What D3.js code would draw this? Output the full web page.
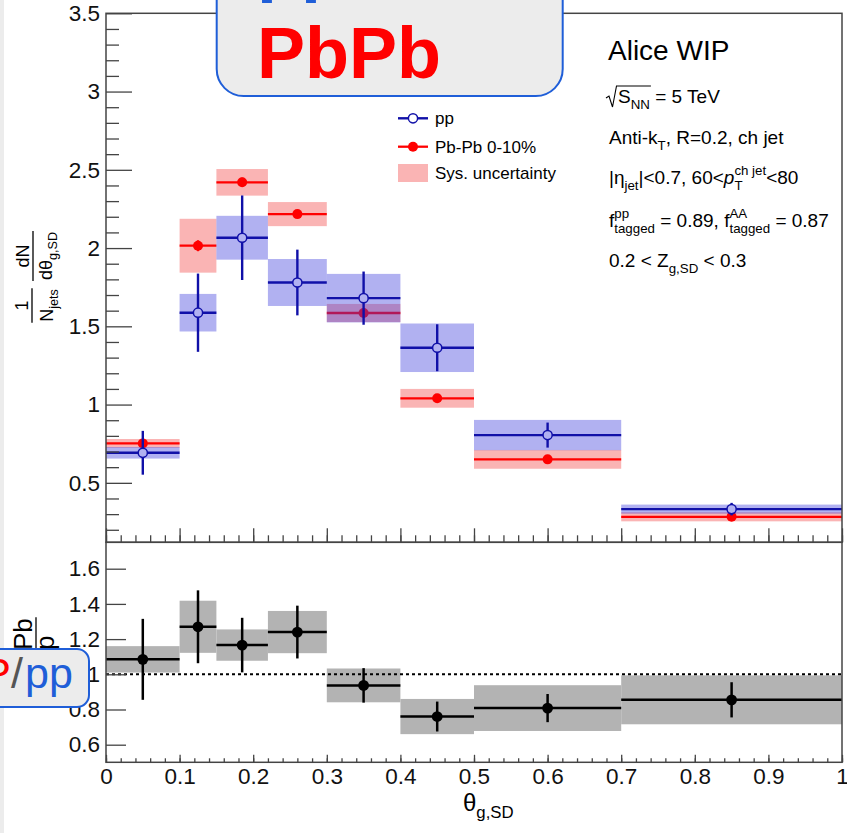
<!DOCTYPE html>
<html>
<head>
<meta charset="utf-8">
<script src="https://cdn.jsdelivr.net/npm/d3@7"></script>
<style>
  body { margin: 0; background: #fff; }
  svg text { font-family: "Liberation Sans", Arial, Helvetica, sans-serif; fill: #000; white-space: pre; }
</style>
</head>
<body>
<svg id="chart" width="847" height="833"></svg>
<script>
// bins in theta_g,SD
var binEdges = [0, 0.1, 0.15, 0.22, 0.3, 0.4, 0.5, 0.7, 1.0];
var binCenters = [0.05, 0.125, 0.185, 0.26, 0.35, 0.45, 0.6, 0.85];

// pp
var ppVal  = [0.692, 1.587, 2.066, 1.78, 1.68, 1.363, 0.805, 0.332];
var ppStat = [0.14, 0.25, 0.27, 0.21, 0.17, 0.15, 0.08, 0.04];
var ppSys  = [0.037, 0.12, 0.14, 0.15, 0.155, 0.155, 0.097, 0.029];

// Pb-Pb 0-10%
var pbVal  = [0.752, 2.015, 2.42, 2.217, 1.585, 1.04, 0.65, 0.283];
var pbStat = [0.02, 0.035, 0.03, 0.02, 0.02, 0.015, 0.01, 0.01];
var pbSys  = [0.028, 0.172, 0.085, 0.077, 0.058, 0.06, 0.06, 0.029];

// ratio PbPb / pp
var ratioVal  = [1.085, 1.27, 1.166, 1.24, 0.937, 0.76, 0.808, 0.855];
var ratioStat = [0.23, 0.207, 0.155, 0.15, 0.098, 0.085, 0.08, 0.10];
var ratioSys  = [0.075, 0.148, 0.089, 0.12, 0.096, 0.1, 0.13, 0.139];

// axis ticks
var topYTicks = [0.5, 1, 1.5, 2, 2.5, 3, 3.5];
var botYTicks = [0.6, 0.8, 1, 1.2, 1.4, 1.6];
var xTicks = [0, 0.1, 0.2, 0.3, 0.4, 0.5, 0.6, 0.7, 0.8, 0.9, 1];

var legendLabels = ["pp", "Pb-Pb 0-10%", "Sys. uncertainty"];

var blue = "#1010a8", red = "#ff0000";
var blueBox = "rgba(60,60,220,0.4)", redBox = "rgba(240,40,40,0.35)", grayBox = "#b3b3b3";
var slideBlue = "#1f5ed8";

var svg = d3.select("#chart");

var x = d3.scaleLinear().domain([0, 1]).range([106, 842]);
var yTop = d3.scaleLinear().domain([0.12, 3.5]).range([542.3, 13.3]);
var yBot = d3.scaleLinear().domain([0.5, 1.75]).range([762.3, 542.3]);

// edge of the slide on the left
svg.append("rect").attr("x", 0).attr("y", 0).attr("width", 4).attr("height", 833).attr("fill", "#ececec");

// text with sub/superscripts, measured piece by piece
function rich(g, x0, y0, parts, fs, anchor) {
  var t = g.append("g");
  var cx = 0;
  parts.forEach(function(p) {
    if (typeof p === "string") p = {t: p};
    if (p.t) {
      var el = t.append("text").attr("x", cx).attr("y", 0).attr("font-size", fs).text(p.t);
      if (p.i) el.attr("font-style", "italic");
      cx += el.node().getComputedTextLength();
    }
    var w = 0;
    if (p.sup) {
      var s = t.append("text").attr("x", cx).attr("y", -fs * 0.45).attr("font-size", fs * 0.7).text(p.sup);
      w = Math.max(w, s.node().getComputedTextLength());
    }
    if (p.sub) {
      var b = t.append("text").attr("x", cx).attr("y", fs * 0.3).attr("font-size", fs * 0.7).text(p.sub);
      w = Math.max(w, b.node().getComputedTextLength());
    }
    cx += w;
  });
  var ox = anchor === "middle" ? x0 - cx / 2 : x0;
  t.attr("transform", "translate(" + ox + "," + y0 + ")");
  return cx;
}

// rotated fraction, bar centred on (px, py)
function fraction(px, py, num, den, fs, numY, denY) {
  var g = svg.append("g").attr("transform", "translate(" + px + "," + py + ") rotate(-90)");
  var w1 = rich(g, 0, numY, num, fs, "middle");
  var w2 = rich(g, 0, denY, den, fs, "middle");
  var w = Math.max(w1, w2) + 2;
  g.append("line").attr("x1", -w / 2).attr("x2", w / 2).attr("y1", 0).attr("y2", 0)
    .attr("stroke", "#000").attr("stroke-width", 1.3);
}

function sysBoxes(vals, sys, y, fill) {
  svg.append("g").selectAll("rect")
    .data(vals)
    .enter()
    .append("rect")
      .attr("x", function(d, i) { return x(binEdges[i]); })
      .attr("width", function(d, i) { return x(binEdges[i + 1]) - x(binEdges[i]); })
      .attr("y", function(d, i) { return y(d + sys[i]); })
      .attr("height", function(d, i) { return y(d - sys[i]) - y(d + sys[i]); })
      .attr("fill", fill);
}

function points(vals, stat, y, color, lw, r, markerFill, markerStroke) {
  var g = svg.append("g").attr("stroke", color).attr("stroke-width", lw);
  g.selectAll("line.h").data(vals).enter().append("line").attr("class", "h")
    .attr("x1", function(d, i) { return x(binEdges[i]); })
    .attr("x2", function(d, i) { return x(binEdges[i + 1]); })
    .attr("y1", function(d) { return y(d); })
    .attr("y2", function(d) { return y(d); });
  g.selectAll("line.v").data(vals).enter().append("line").attr("class", "v")
    .attr("x1", function(d, i) { return x(binCenters[i]); })
    .attr("x2", function(d, i) { return x(binCenters[i]); })
    .attr("y1", function(d, i) { return y(d + stat[i]); })
    .attr("y2", function(d, i) { return y(d - stat[i]); });
  g.selectAll("circle").data(vals).enter().append("circle")
    .attr("cx", function(d, i) { return x(binCenters[i]); })
    .attr("cy", function(d) { return y(d); })
    .attr("r", r)
    .attr("fill", markerFill)
    .attr("stroke", markerStroke)
    .attr("stroke-width", markerStroke === "none" ? 0 : 1.5);
}

// top panel
sysBoxes(pbVal, pbSys, yTop, redBox);
points(pbVal, pbStat, yTop, red, 2.3, 5, red, "none");
sysBoxes(ppVal, ppSys, yTop, blueBox);
points(ppVal, ppStat, yTop, blue, 2.4, 4.6, "#b1b1f1", blue);

// ratio panel
sysBoxes(ratioVal, ratioSys, yBot, grayBox);
svg.append("line")
  .attr("x1", x(0)).attr("x2", x(1))
  .attr("y1", yBot(1)).attr("y2", yBot(1))
  .attr("stroke", "#000").attr("stroke-width", 2).attr("stroke-dasharray", "3,3");
points(ratioVal, ratioStat, yBot, "#000", 2.5, 5.4, "#000", "none");

// axes
function styleAxis(g, fs) {
  g.attr("font-size", null).attr("font-family", null);
  g.select(".domain").remove();
  g.selectAll(".tick line").attr("stroke", "#444").attr("stroke-width", 1.3);
  g.selectAll(".tick text").attr("font-size", fs).style("fill", "#111");
}
var fmt = function(d) { return String(+d.toFixed(1)); };

var topMinorY = d3.range(2, 35).filter(function(i) { return i % 5 !== 0; }).map(function(i) { return i / 10; });
svg.append("g").attr("transform", "translate(106,0)")
  .call(d3.axisLeft(yTop).tickValues(topMinorY).tickSizeInner(-13).tickSizeOuter(0).tickFormat(""))
  .call(styleAxis, 22.5);
svg.append("g").attr("transform", "translate(106,0)")
  .call(d3.axisLeft(yTop).tickValues(topYTicks).tickSizeInner(-26).tickSizeOuter(0).tickPadding(6).tickFormat(fmt))
  .call(styleAxis, 22.5);

svg.append("g").attr("transform", "translate(106,0)")
  .call(d3.axisLeft(yBot).tickValues(botYTicks).tickSizeInner(-20).tickSizeOuter(0).tickPadding(6).tickFormat(fmt))
  .call(styleAxis, 22.5);

var minorX = d3.range(0, 51).map(function(i) { return i / 50; });
svg.append("g").attr("transform", "translate(0,542.3)")
  .call(d3.axisBottom(x).tickValues(minorX).tickSizeInner(-7).tickSizeOuter(0).tickFormat(""))
  .call(styleAxis, 22.5);
svg.append("g").attr("transform", "translate(0,542.3)")
  .call(d3.axisBottom(x).tickValues(xTicks).tickSizeInner(-14).tickSizeOuter(0).tickFormat(""))
  .call(styleAxis, 22.5);
svg.append("g").attr("transform", "translate(0,762.3)")
  .call(d3.axisBottom(x).tickValues(minorX).tickSizeInner(-4).tickSizeOuter(0).tickFormat(""))
  .call(styleAxis, 22.5);
svg.append("g").attr("transform", "translate(0,762.3)")
  .call(d3.axisBottom(x).tickValues(xTicks).tickSizeInner(-7.5).tickSizeOuter(0).tickPadding(6).tickFormat(fmt))
  .call(styleAxis, 22.5);

// frames
svg.append("rect").attr("x", x(0)).attr("y", yTop(3.5)).attr("width", x(1) - x(0)).attr("height", yTop(0.12) - yTop(3.5))
  .attr("fill", "none").attr("stroke", "#444").attr("stroke-width", 1.5);
svg.append("rect").attr("x", x(0)).attr("y", yBot(1.75)).attr("width", x(1) - x(0)).attr("height", yBot(0.5) - yBot(1.75))
  .attr("fill", "none").attr("stroke", "#444").attr("stroke-width", 1.5);

// axis titles
rich(svg, 463, 811, ["θ", {sub: "g,SD"}], 24);
fraction(32, 305.5, ["1"], ["N", {sub: "jets"}], 18, -4, 21);
fraction(33, 256, ["dN"], ["dθ", {sub: "g,SD"}], 18, -4, 19);
fraction(36, 650, ["PbPb"], ["pp"], 26, -4, 17.5);

// legend
var legY = [118.3, 146.7, 173];
var lg = svg.append("g");
lg.append("line").attr("x1", 398).attr("x2", 428).attr("y1", legY[0]).attr("y2", legY[0]).attr("stroke", blue).attr("stroke-width", 2.4);
lg.append("circle").attr("cx", 413).attr("cy", legY[0]).attr("r", 4.6).attr("fill", "#fff").attr("stroke", blue).attr("stroke-width", 1.5);
lg.append("line").attr("x1", 398).attr("x2", 428).attr("y1", legY[1]).attr("y2", legY[1]).attr("stroke", red).attr("stroke-width", 2.3);
lg.append("circle").attr("cx", 413).attr("cy", legY[1]).attr("r", 5).attr("fill", red);
lg.append("rect").attr("x", 398).attr("y", legY[2] - 9).attr("width", 30).attr("height", 18).attr("fill", redBox);
lg.selectAll("text.leg").data(legendLabels).enter().append("text").attr("class", "leg")
  .attr("x", 435).attr("y", function(d, i) { return legY[i] + 6; })
  .attr("font-size", 17).text(function(d) { return d; });

// text block
svg.append("text").attr("x", 608).attr("y", 60).attr("font-size", 28).text("Alice WIP");
var wS = rich(svg, 618, 103, ["S", {sub: "NN"}], 19);
rich(svg, 618 + wS, 103, [" = 5 TeV"], 19);
svg.append("path")
  .attr("d", "M606,98 L609,96 L612.5,107 L616.5,86 L" + (618 + wS + 1) + ",86")
  .attr("fill", "none").attr("stroke", "#000").attr("stroke-width", 1.1);
rich(svg, 609, 144, ["Anti-k", {sub: "T"}, ", R=0.2, ch jet"], 19);
rich(svg, 609, 184, ["|η", {sub: "jet"}, "|<0.7, 60<", {t: "p", i: true, sup: "ch jet", sub: "T"}, "<80"], 19);
rich(svg, 609, 227, [{t: "f", sup: "pp", sub: "tagged"}, " = 0.89, ", {t: "f", sup: "AA", sub: "tagged"}, " = 0.87"], 19);
rich(svg, 609, 267, ["0.2 < Z", {sub: "g,SD"}, " < 0.3"], 19);

// slide overlays
svg.append("rect").attr("x", 216.7).attr("y", -40).attr("width", 346).attr("height", 136).attr("rx", 27)
  .attr("fill", "#ececec").attr("stroke", slideBlue).attr("stroke-width", 2);
svg.append("text").attr("x", 257).attr("y", -12).attr("font-size", 72).attr("font-weight", "bold")
  .style("fill", slideBlue).text("pp");
svg.append("text").attr("x", 257).attr("y", 78).attr("font-size", 72).attr("font-weight", "bold")
  .style("fill", red).text("PbPb");

svg.append("rect").attr("x", -20).attr("y", 649).attr("width", 109).attr("height", 58).attr("rx", 12)
  .attr("fill", "#ececec").attr("stroke", slideBlue).attr("stroke-width", 2);
svg.append("text").attr("x", 11).attr("y", 688).attr("font-size", 43).attr("text-anchor", "end").style("fill", red).text("P");
svg.append("text").attr("x", 11).attr("y", 688).attr("font-size", 43).style("fill", "#555").text("/");
svg.append("text").attr("x", 25).attr("y", 688).attr("font-size", 43).style("fill", slideBlue).text("pp");
</script>
</body>
</html>
